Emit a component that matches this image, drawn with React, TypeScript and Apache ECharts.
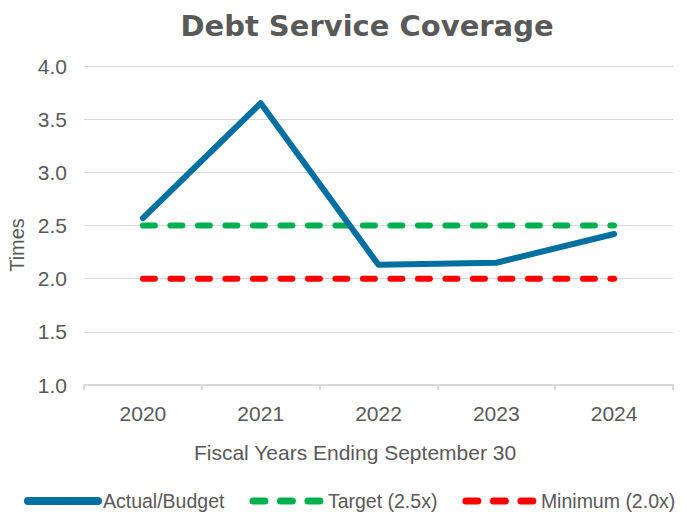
import React, { useEffect, useRef } from "react";
import * as echarts from "echarts";

const categories = ["2020", "2021", "2022", "2023", "2024"];
const actualBudget = [2.57, 3.65, 2.13, 2.15, 2.42];
const target = [2.5, 2.5, 2.5, 2.5, 2.5];
const minimum = [2.0, 2.0, 2.0, 2.0, 2.0];
const seriesNames = ["Actual/Budget", "Target (2.5x)", "Minimum (2.0x)"];
const titleText = "Debt Service Coverage";
const xAxisTitle = "Fiscal Years Ending September 30";
const yAxisTitle = "Times";

const GREY = "#595959";
const FONT = "'Liberation Sans', Arial, sans-serif";

export default function App() {
  const ref = useRef<HTMLDivElement>(null);
  useEffect(() => {
    document.body.style.margin = "0";
    if (!ref.current) return;
    const chart = echarts.init(ref.current, undefined, { renderer: "svg" });
    const dash = [12, 15.5];
    chart.setOption({
      animation: false,
      backgroundColor: "#ffffff",
      textStyle: { fontFamily: FONT },
      grid: { left: 84, right: 14, top: 66, bottom: 129, containLabel: false },
      xAxis: {
        type: "category",
        data: categories,
        boundaryGap: true,
        axisLine: { show: true, lineStyle: { color: "#D9D9D9", width: 2 } },
        axisTick: { show: true, length: 5, lineStyle: { color: "#D9D9D9", width: 2 } },
        axisLabel: { color: GREY, fontSize: 21, fontFamily: FONT, margin: 18 },
        splitLine: { show: false },
      },
      yAxis: {
        type: "value",
        min: 1,
        max: 4,
        interval: 0.5,
        axisLine: { show: false },
        axisTick: { show: false },
        axisLabel: {
          color: GREY,
          fontSize: 21,
          fontFamily: FONT,
          margin: 17,
          formatter: (v: number) => v.toFixed(1),
        },
        splitLine: { show: true, lineStyle: { color: "#D9D9D9", width: 1 } },
      },
      legend: {
        left: 19,
        top: 486,
        itemWidth: 70,
        itemHeight: 8,
        itemGap: 25,
        textStyle: { color: GREY, fontSize: 19.5, fontFamily: FONT },
        data: [
          { name: seriesNames[0], lineStyle: { width: 8, cap: "round" } },
          { name: seriesNames[1], lineStyle: { width: 7, cap: "round", type: dash } },
          { name: seriesNames[2], lineStyle: { width: 7, cap: "round", type: dash } },
        ],
      },
      graphic: [
        {
          type: "text",
          x: 367,
          y: 26,
          style: {
            text: titleText,
            fontFamily: "'DejaVu Sans', sans-serif",
            fontWeight: "bold",
            fontSize: 29,
            fill: GREY,
            textAlign: "center",
            textVerticalAlign: "middle",
          },
        },
        {
          type: "text",
          x: 355,
          y: 452,
          style: {
            text: xAxisTitle,
            fontFamily: FONT,
            fontSize: 21,
            fill: GREY,
            textAlign: "center",
            textVerticalAlign: "middle",
          },
        },
        {
          type: "text",
          x: 17,
          y: 245,
          rotation: Math.PI / 2,
          style: {
            text: yAxisTitle,
            fontFamily: FONT,
            fontSize: 20,
            fill: GREY,
            textAlign: "center",
            textVerticalAlign: "middle",
          },
        },
      ],
      series: [
        {
          name: seriesNames[0],
          type: "line",
          data: actualBudget,
          symbol: "none",
          color: "#016FA0",
          lineStyle: { color: "#016FA0", width: 6, cap: "round", join: "round" },
          z: 3,
        },
        {
          name: seriesNames[1],
          type: "line",
          data: target,
          symbol: "none",
          color: "#00B050",
          lineStyle: { color: "#00B050", width: 6, cap: "round", type: dash },
          z: 2,
        },
        {
          name: seriesNames[2],
          type: "line",
          data: minimum,
          symbol: "none",
          color: "#FF0000",
          lineStyle: { color: "#FF0000", width: 6, cap: "round", type: dash },
          z: 2,
        },
      ],
    });
    return () => chart.dispose();
  }, []);
  return <div ref={ref} style={{ width: 687, height: 514 }} />;
}
